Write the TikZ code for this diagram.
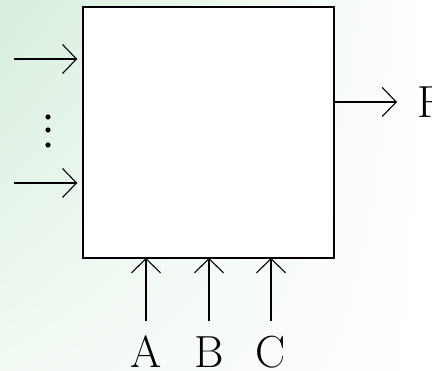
\documentclass[tikz,border=0pt]{standalone}
\usetikzlibrary{arrows.meta,shadings}
\definecolor{bggreen}{RGB}{216,238,221}
\tikzset{
  inarrow/.style={line width=1.1pt, -{Straight Barb[length=14pt, width=29pt, line width=1.1pt]}},
  blockbox/.style={draw, fill=white, line width=1.4pt, minimum width=251pt, minimum height=251pt, inner sep=0pt},
  sig/.style={inner sep=0pt, font=\fontsize{45}{50}\selectfont}
}
\begin{document}
\begin{tikzpicture}[x=1pt, y=1pt] % one unit is one pixel of the page
    % Slide background
    \useasboundingbox (0,0) rectangle (432,371);
    \shade[upper left=bggreen, lower left=bggreen!35!white, upper right=white, lower right=white] (0,0) rectangle (432,371);
    % Draw the block
    \node[blockbox] (box) at (208.5,238.5) {};
    % Draw inputs on the left
    \coordinate (in1) at (14,312);
    \coordinate (in2) at (14,188);
    \draw[inarrow, shorten >=5pt] (in1) -- (in1 -| box.west);
    \draw[inarrow, shorten >=5pt] (in2) -- (in2 -| box.west);
    \foreach \y/\n in {254/d1, 241/d2, 226/d3}
        \fill (48,\y) circle (2.6pt) coordinate (\n);
    % Draw output
    \node[sig, anchor=west] (F) at (417,269) {F};
    \draw[inarrow] (box.east |- F) -- (397,269);
    % Draw control inputs
    \foreach \x/\n in {146/A, 209/B, 271/C} {
        \node[sig, anchor=base] (\n) at (\x,3) {\n};
        \draw[inarrow] (\x,50) -- (\x,113);
    }
\end{tikzpicture}
\end{document}
